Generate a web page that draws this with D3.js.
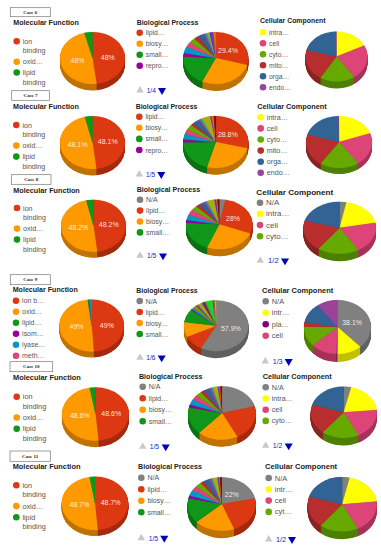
<!DOCTYPE html>
<html>
<head>
<meta charset="utf-8">
<script src="https://cdn.jsdelivr.net/npm/d3@7"></script>
<style>
  html, body { margin: 0; padding: 0; background: #fff; }
  svg { display: block; }
  text { font-family: "Liberation Sans", Arial, sans-serif; }
</style>
</head>
<body>
<script>
// values, one trio of lists per case
var caseNames = ["Case 6", "Case 7", "Case 8", "Case 9", "Case 10", "Case 11"];
var panelTitles = ["Molecular Function", "Biological Process", "Cellular Component"];

var case6MfLabels = ["ion binding", "oxid…", "lipid binding"];
var case6MfValues = [48, 48, 4];
var case6BpLabels = ["lipid…", "biosy…", "small…", "repro…"];
var case6BpValues = [29.4, 27.5, 19, 2.2, 4, 3.2, 3.3, 2.2, 3, 1, 1, 1, 2, 1.2];
var case6CcLabels = ["intra…", "cell", "cyto…", "mito…", "orga…", "endo…"];
var case6CcValues = [17.7, 22.6, 18.4, 20.5, 20.5, 0.3];

var case7MfLabels = ["ion binding", "oxid…", "lipid binding"];
var case7MfValues = [48.1, 48.1, 3.8];
var case7BpLabels = ["lipid…", "biosy…", "small…", "repro…"];
var case7BpValues = [28.8, 25.5, 20.5, 1.8, 3.4, 3, 3.2, 1.6, 3, 1, 1, 4.4, 0.7, 1, 0.6, 0.4];
var case7CcLabels = ["intra…", "cell", "cyto…", "mito…", "orga…", "endo…"];
var case7CcValues = [19.5, 20.6, 19.4, 20.2, 20, 0.3];

var case8MfLabels = ["ion binding", "oxid…", "lipid binding"];
var case8MfValues = [48.2, 48.2, 3.6];
var case8BpLabels = ["N/A", "lipid…", "biosy…", "small…"];
var case8BpValues = [3, 28, 25, 20, 1.8, 3.5, 3.5, 3, 2, 2.5, 1, 0.8, 3.5, 0.9, 0.6, 0.9];
var case8CcLabels = ["N/A", "intra…", "cell", "cyto…"];
var case8CcValues = [3, 19, 19.4, 18.6, 19.4, 20.6];

var case9MfLabels = ["ion\u00a0b…", "oxid…", "lipid…", "isom…", "lyase…", "meth…"];
var case9MfValues = [49, 49, 0.6, 0.2, 1, 0.2];
var case9BpLabels = ["N/A", "lipid…", "biosy…", "small…"];
var case9BpValues = [57.9, 10, 9.4, 8.5, 0.5, 1, 0.3, 1.6, 0.3, 0.3, 0.6, 0.3, 1.7, 0.4, 0.3, 0.4, 0.4, 0.3, 0.2, 0.2, 0.3, 3.4, 0.4, 0.3, 0.3, 0.7];
var case9CcLabels = ["N/A", "intr…", "pla…", "cell"];
var case9CcValues = [38.1, 12, 0.4, 12.7, 12, 2.8, 12, 10];

var case10MfLabels = ["ion binding", "oxid…", "lipid binding"];
var case10MfValues = [48.6, 48.6, 2.8];
var case10BpLabels = ["N/A", "lipid…", "biosy…", "small…"];
var case10BpValues = [20.8, 21.4, 19.2, 16.5, 1.7, 3.2, 2.9, 2.9, 1.7, 2.7, 1.2, 0.7, 2.4, 0.7, 0.5, 0.8];
var case10CcLabels = ["N/A", "intra…", "cell", "cyto…"];
var case10CcValues = [3.7, 19.9, 19, 18.3, 19, 20];

var case11MfLabels = ["ion binding", "oxid…", "lipid binding"];
var case11MfValues = [48.7, 48.7, 2.6];
var case11BpLabels = ["N/A", "lipid…", "biosy…", "small…"];
var case11BpValues = [22, 22.5, 19.4, 15.3, 1.8, 3.4, 3, 2.9, 1.7, 2.7, 1.2, 0.7, 2.4, 0.7, 0.5, 0.8];
var case11CcLabels = ["N/A", "intr…", "cell", "cyt…"];
var case11CcValues = [3.5, 19.8, 19.2, 18.3, 18.9, 20.3];

// which slices carry a percentage, and what the pager says (null = no pager)
var labelledSlices = [[0, 1], [0], [], [0, 1], [0], [], [0, 1], [1], [], [0, 1], [0], [0], [0, 1], [], [], [0, 1], [0], []];
var pagerTexts = [null, "1/4", null, null, "1/5", null, null, "1/5", "1/2", null, "1/6", "1/3", null, "1/5", "1/2", null, "1/5", "1/2"];

var allLabels = [case6MfLabels, case6BpLabels, case6CcLabels, case7MfLabels, case7BpLabels, case7CcLabels,
  case8MfLabels, case8BpLabels, case8CcLabels, case9MfLabels, case9BpLabels, case9CcLabels,
  case10MfLabels, case10BpLabels, case10CcLabels, case11MfLabels, case11BpLabels, case11CcLabels];
var allValues = [case6MfValues, case6BpValues, case6CcValues, case7MfValues, case7BpValues, case7CcValues,
  case8MfValues, case8BpValues, case8CcValues, case9MfValues, case9BpValues, case9CcValues,
  case10MfValues, case10BpValues, case10CcValues, case11MfValues, case11BpValues, case11CcValues];

// the panels were pasted in by hand, so every one sits somewhere slightly different
var boxes = [
  {x0: 10.3, x1: 50.3, y0: 7.7, y1: 16.7},
  {x0: 11.7, x1: 49.5, y0: 90.7, y1: 100.3},
  {x0: 11.3, x1: 51, y0: 174.7, y1: 184.3},
  {x0: 10.3, x1: 50.3, y0: 274.7, y1: 284.7},
  {x0: 10, x1: 52.7, y0: 361.7, y1: 371.7},
  {x0: 10, x1: 50.3, y0: 451, y1: 461.3}
];
var layout = [
  {tx: 13.3, ty: 22.7, fs: 7.15, dx: 16.7, ly: 41.3, step: 10.8, cx: 92.5, cy: 58, rx: 32.5, ry: 26, depth: 6.5},
  {tx: 136.7, ty: 22.7, fs: 6.9, dx: 139.7, ly: 32.7, step: 11, cx: 215.8, cy: 58, rx: 32.5, ry: 26, depth: 7, pager: [90.3, 140, 146.7, 162]},
  {tx: 260, ty: 21, fs: 6.9, dx: 263, ly: 32.3, step: 11, cx: 336.5, cy: 56.5, rx: 31, ry: 25, depth: 7},
  {tx: 13, ty: 106, fs: 7.2, dx: 16.3, ly: 125, step: 11, cx: 92.5, cy: 142.5, rx: 32.5, ry: 26.5, depth: 6.5},
  {tx: 135.7, ty: 106.3, fs: 6.9, dx: 139.3, ly: 116.7, step: 11.1, cx: 215.8, cy: 142, rx: 32.5, ry: 26, depth: 6.7, pager: [174.3, 139.3, 146, 161.3]},
  {tx: 257.3, ty: 106, fs: 7.3, dx: 260.7, ly: 117.3, step: 11.1, cx: 339, cy: 142, rx: 33, ry: 26, depth: 6},
  {tx: 13.3, ty: 190, fs: 7.25, dx: 17, ly: 208, step: 11, cx: 93.5, cy: 225.7, rx: 32.5, ry: 26, depth: 6},
  {tx: 136.7, ty: 189.7, fs: 7.1, dx: 140, ly: 199.7, step: 10.9, cx: 219.3, cy: 224.3, rx: 33.3, ry: 25, depth: 7, pager: [255.7, 140, 147, 163]},
  {tx: 256.3, ty: 192, fs: 8.1, dx: 260, ly: 202.7, step: 11.2, cx: 339.7, cy: 227.7, rx: 36.3, ry: 26, depth: 7.5, pager: [260.7, 260.3, 268, 285]},
  {tx: 12.7, ty: 289.7, fs: 7.1, dx: 16, ly: 300.7, step: 11, cx: 91.7, cy: 325.5, rx: 32.3, ry: 26, depth: 6},
  {tx: 136.3, ty: 290.7, fs: 6.85, dx: 139.7, ly: 301, step: 11, cx: 216.2, cy: 325.7, rx: 32.2, ry: 25.5, depth: 7, pager: [357.7, 140, 146.3, 161.7]},
  {tx: 262, ty: 290.7, fs: 7.5, dx: 265.7, ly: 301.3, step: 11.5, cx: 337.5, cy: 327, rx: 33.5, ry: 27, depth: 8, pager: [361.3, 265.3, 272.7, 288.7]},
  {tx: 13, ty: 377.3, fs: 7.4, dx: 16.7, ly: 396.7, step: 11.2, cx: 95.5, cy: 414, rx: 33.5, ry: 26.7, depth: 6.5},
  {tx: 139, ty: 376, fs: 7.1, dx: 142.7, ly: 386.7, step: 11.5, cx: 222, cy: 413, rx: 33.8, ry: 26.7, depth: 7, pager: [446.7, 142.7, 149.7, 165.7]},
  {tx: 262.7, ty: 376.7, fs: 7.25, dx: 265.7, ly: 387.3, step: 11.2, cx: 343.7, cy: 412.3, rx: 33, ry: 25.7, depth: 7.5, pager: [445.7, 265.7, 272.7, 288.7]},
  {tx: 12.7, ty: 466.3, fs: 7.4, dx: 16.3, ly: 485.3, step: 11.2, cx: 95, cy: 503.3, rx: 33.3, ry: 26.7, depth: 6},
  {tx: 138, ty: 466.7, fs: 7.15, dx: 141.3, ly: 477.7, step: 11.5, cx: 221.7, cy: 504, rx: 34, ry: 26.8, depth: 7.3, pager: [538, 141.3, 148.7, 164.3]},
  {tx: 265, ty: 466.7, fs: 7.6, dx: 268.7, ly: 478, step: 11.3, cx: 342.2, cy: 504.3, rx: 34.5, ry: 27.2, depth: 7.7, pager: [539.3, 268.7, 276, 292]}
];

var googleColors = ["#dc3912", "#ff9900", "#109618", "#990099", "#0099c6", "#dd4477", "#66aa00", "#b82e2e", "#316395",
  "#994499", "#22aa99", "#aaaa11", "#6633cc", "#e67300", "#8b0707", "#651067", "#329262", "#5574a6", "#3b3eac",
  "#b77322", "#16d620", "#b91383", "#f4359e", "#9c5935", "#a9c413", "#2a778d"];
var naColor = "#808080";
var cellColors = ["#ffff00", "#dd4477", "#66aa00", "#b82e2e", "#316395", "#994499"];
var case9CellColors = [naColor, "#ffff00", "#800080", "#dd4477", "#66aa00", "#b82e2e", "#316395", "#994499"];

function colorsFor(i) {
  var column = i % 3, row = Math.floor(i / 3);
  if (column == 2) {
    if (row == 3) return case9CellColors;
    return row >= 2 ? [naColor].concat(cellColors) : cellColors;
  }
  if (column == 1 && row >= 2) return [naColor].concat(googleColors);
  return googleColors;
}

var svg = d3.select("body").append("svg").attr("width", 381).attr("height", 550);
var pie = d3.pie().sort(null).value(function(d) { return d; });
var blue = "#0a1fd0";

// case tags
boxes.forEach(function(b, i) {
  svg.append("rect")
    .attr("x", b.x0).attr("y", b.y0)
    .attr("width", b.x1 - b.x0).attr("height", b.y1 - b.y0)
    .attr("fill", "#fff").attr("stroke", "#777").attr("stroke-width", 0.7);
  svg.append("text")
    .attr("x", (b.x0 + b.x1) / 2).attr("y", (b.y0 + b.y1) / 2 + 1.7)
    .attr("text-anchor", "middle")
    .style("font-family", "'Liberation Serif', serif")
    .style("font-weight", "bold").style("font-size", "5px").attr("fill", "#222")
    .text(caseNames[i]);
});

layout.forEach(function(p, i) {
  var colors = colorsFor(i);
  var title = panelTitles[i % 3];
  var g = svg.append("g");

  g.append("text").attr("x", p.tx).attr("y", p.ty + p.fs * 0.36)
    .style("font-weight", "bold").style("font-size", p.fs + "px").attr("fill", "#222")
    .text(title);

  // legend, wraps on the space like the original
  var y = p.ly;
  allLabels[i].forEach(function(label, k) {
    g.append("circle").attr("cx", p.dx).attr("cy", y).attr("r", 3.3).attr("fill", colors[k]);
    label.split(" ").forEach(function(line, n) {
      if (n > 0) y += 9.6;
      g.append("text").attr("x", p.dx + 6.1).attr("y", y + 2.5)
        .style("font-size", p.fs * 0.98 + "px").attr("fill", "#555")
        .text(line);
    });
    y += p.step;
  });

  // pager
  if (pagerTexts[i]) {
    var py = p.pager[0];
    g.append("path").attr("d", d3.symbol(d3.symbolTriangle, 24)())
      .attr("transform", "translate(" + p.pager[1] + "," + py + ")").attr("fill", "#c8c8c8");
    g.append("text").attr("x", p.pager[2]).attr("y", py + 2.5)
      .style("font-size", p.fs * 0.95 + "px").attr("fill", blue).text(pagerTexts[i]);
    g.append("path").attr("d", d3.symbol(d3.symbolTriangle, 28)())
      .attr("transform", "translate(" + p.pager[3] + "," + py + ") rotate(180)").attr("fill", "#0000c0");
  }

  // 3d pie: stack of darker copies, then the top face squashed into an ellipse
  var arcs = pie(allValues[i]);
  var arc = d3.arc().innerRadius(0).outerRadius(p.rx);
  var sy = p.ry / p.rx;
  for (var off = p.depth; off > 0; off -= 0.5) {
    var layer = g.append("g")
      .attr("transform", "translate(" + p.cx + "," + (p.cy + off) + ") scale(1," + sy + ")");
    layer.selectAll("path").data(arcs).enter().append("path")
      .attr("d", arc)
      .attr("fill", function(d, k) { return d3.color(colors[k % colors.length]).darker(0.8); });
  }
  var top = g.append("g")
    .attr("transform", "translate(" + p.cx + "," + p.cy + ") scale(1," + sy + ")");
  top.selectAll("path").data(arcs).enter().append("path")
    .attr("d", arc)
    .attr("fill", function(d, k) { return colors[k % colors.length]; })
    .attr("stroke", function(d, k) { return colors[k % colors.length]; })
    .attr("stroke-width", 0.2);

  // percentages
  var labelArc = d3.arc().innerRadius(p.rx * 0.47).outerRadius(p.rx * 0.47);
  labelledSlices[i].forEach(function(k) {
    var c = labelArc.centroid(arcs[k]);
    g.append("text")
      .attr("x", p.cx + c[0])
      .attr("y", p.cy + c[1] * sy + 2.4)
      .attr("text-anchor", "middle")
      .style("font-size", "7px").attr("fill", "#fff").attr("fill-opacity", 0.88)
      .text(arcs[k].value + "%");
  });
});
</script>
</body>
</html>
